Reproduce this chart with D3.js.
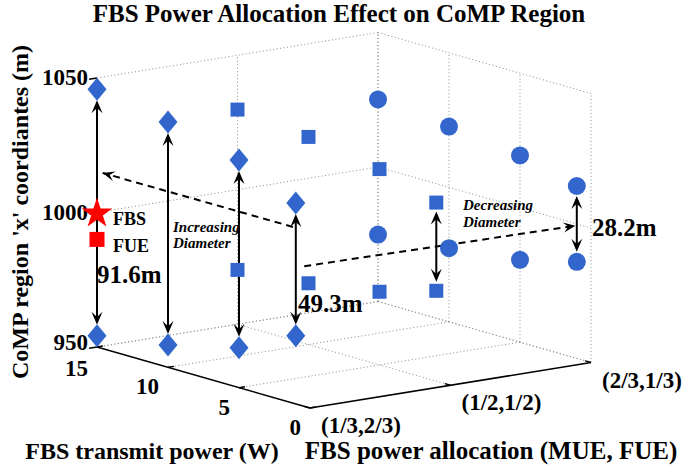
<!DOCTYPE html>
<html>
<head>
<meta charset="utf-8">
<script src="https://cdn.jsdelivr.net/npm/d3@7"></script>
<style>
  body { margin: 0; background: #fff; }
  svg text { font-family: "Liberation Serif", "Times New Roman", serif; font-weight: bold; }
</style>
</head>
<body>
<svg id="chart"></svg>
<script>
const width = 686;
const height = 469;

// data
const allocations = ['(1/3,2/3)', '(1/2,1/2)', '(2/3,1/3)'];
const powers = [15, 10, 5, 1];
const powerTicks = [0, 5, 10, 15];
const zTicks = [950, 1000, 1050];
const upperDiamond = [1045.8, 1041.2, 1034.6, 1024.65];
const lowerDiamond = [954.2, 958.3, 964.8, 975.35];
const upperSquare = [1029.8, 1027.2, 1022.8, 1016.4];
const lowerSquare = [970.2, 972.8, 977.2, 983.6];
const upperCircle = [1025.1, 1022.6, 1019.4, 1014.1];
const lowerCircle = [974.9, 977.4, 980.6, 985.9];
const fbs = {alloc: 0, power: 15, z: 1000};
const fue = {alloc: 0, power: 15, z: 990};

const blue = '#3366cc';

const svg = d3.select('#chart')
    .attr('width', width)
    .attr('height', height);

// 3d -> screen (orthographic view like matlab)
const origin = [310, 408];
const xs = d3.scaleLinear().domain([0, 2]).range([0, 1]);
const ys = d3.scaleLinear().domain([0, 15]).range([0, 1]);
const zs = d3.scaleLinear().domain([950, 1050]).range([0, 1]);
const xVec = [281, -45.5];
const yVec = [-213, -61];
const zVec = [0, -269];

function proj(a, p, z) {
    const fx = xs(a), fy = ys(p), fz = zs(z);
    return [
        origin[0] + fx * xVec[0] + fy * yVec[0] + fz * zVec[0],
        origin[1] + fx * xVec[1] + fy * yVec[1] + fz * zVec[1]
    ];
}

// grid (dotted)
const grid = svg.append('g')
    .attr('stroke', '#8c8c8c')
    .attr('stroke-width', 1)
    .attr('stroke-dasharray', '1,2.5')
    .attr('fill', 'none');

function seg(g, p1, p2) {
    g.append('line')
        .attr('x1', p1[0]).attr('y1', p1[1])
        .attr('x2', p2[0]).attr('y2', p2[1]);
}

// back wall at power=15
[1, 2].forEach(a => seg(grid, proj(a, 15, 950), proj(a, 15, 1050)));
zTicks.forEach(z => seg(grid, proj(0, 15, z), proj(2, 15, z)));
// right wall at alloc=2/3
powerTicks.forEach(p => seg(grid, proj(2, p, 950), proj(2, p, 1050)));
zTicks.forEach(z => seg(grid, proj(2, 0, z), proj(2, 15, z)));
// floor
[1, 2].forEach(a => seg(grid, proj(a, 0, 950), proj(a, 15, 950)));
[5, 10, 15].forEach(p => seg(grid, proj(0, p, 950), proj(2, p, 950)));

// axes lines
const axes = svg.append('g').attr('stroke', '#000').attr('stroke-width', 1.5);
seg(axes, proj(0, 15, 950), proj(0, 0, 950));
seg(axes, proj(0, 0, 950), proj(2, 0, 950));

// ticks
const xl = Math.hypot(xVec[0], xVec[1]);
const yl = Math.hypot(yVec[0], yVec[1]);
zTicks.forEach(z => {
    const p = proj(0, 15, z);
    seg(axes, p, [p[0] - 8 * xVec[0] / xl, p[1] - 8 * xVec[1] / xl]);
});
powerTicks.forEach(v => {
    const p = proj(0, v, 950);
    seg(axes, p, [p[0] + 6 * xVec[0] / xl, p[1] + 6 * xVec[1] / xl]);
});
[0, 1, 2].forEach(a => {
    const p = proj(a, 0, 950);
    seg(axes, p, [p[0] + 6 * yVec[0] / yl, p[1] + 6 * yVec[1] / yl]);
});

// tick labels
const tickFont = 23;
zTicks.forEach(z => {
    const p = proj(0, 15, z);
    svg.append('text')
        .attr('x', p[0] - 9).attr('y', p[1] + (z === 950 ? 3 : 7))
        .attr('text-anchor', 'end')
        .attr('font-size', tickFont)
        .text(z);
});
powerTicks.forEach(v => {
    const p = proj(0, v, 950);
    svg.append('text')
        .attr('x', p[0] - 9).attr('y', p[1] + (v === 15 ? 29 : 27))
        .attr('text-anchor', 'end')
        .attr('font-size', tickFont)
        .text(v);
});
allocations.forEach((t, a) => {
    const p = proj(a, 0, 950);
    svg.append('text')
        .attr('x', p[0] + 11).attr('y', p[1] + 25)
        .attr('text-anchor', 'start')
        .attr('font-size', tickFont)
        .text(t);
});

// arrows
function arrowHead(g, tip, from, len, hw) {
    const dx = tip[0] - from[0], dy = tip[1] - from[1];
    const l = Math.hypot(dx, dy);
    const ux = dx / l, uy = dy / l;
    const bx = tip[0] - ux * len, by = tip[1] - uy * len;
    const nx = tip[0] - ux * len * 0.6, ny = tip[1] - uy * len * 0.6;
    g.append('path')
        .attr('d', `M${tip[0]},${tip[1]}L${bx - uy * hw},${by + ux * hw}L${nx},${ny}L${bx + uy * hw},${by - ux * hw}Z`)
        .attr('fill', '#000').attr('stroke', 'none');
}

const arrows = svg.append('g');
function doubleArrow(a, p, zTop, zBot, gap) {
    const t = proj(a, p, zTop), b = proj(a, p, zBot);
    const t2 = [t[0], t[1] + gap], b2 = [b[0], b[1] - gap];
    arrows.append('line')
        .attr('x1', t2[0]).attr('y1', t2[1] + 3)
        .attr('x2', b2[0]).attr('y2', b2[1] - 3)
        .attr('stroke', '#000').attr('stroke-width', 2);
    arrowHead(arrows, t2, b2, 13, 5.5);
    arrowHead(arrows, b2, t2, 13, 5.5);
}
powers.forEach((p, i) => doubleArrow(0, p, upperDiamond[i], lowerDiamond[i], 11));
doubleArrow(1, 1, upperSquare[3], lowerSquare[3], 9);
doubleArrow(2, 1, upperCircle[3], lowerCircle[3], 10);

function dashedArrow(s, e) {
    arrows.append('line')
        .attr('x1', s[0]).attr('y1', s[1])
        .attr('x2', e[0]).attr('y2', e[1])
        .attr('stroke', '#000').attr('stroke-width', 2)
        .attr('stroke-dasharray', '7,5');
    arrowHead(arrows, e, s, 12, 5);
}
dashedArrow(proj(0, 1.2, 1015.5), proj(0, 14.6, 1015.3));
dashedArrow(proj(0.06, 1, 1000.7), proj(1.99, 1, 999.4));

// markers
const diamondPath = 'M0,-11.5L9.5,0L0,11.5L-9.5,0Z';
const markers = svg.append('g').attr('fill', blue);
powers.forEach((p, i) => {
    [upperDiamond[i], lowerDiamond[i]].forEach(z => {
        const q = proj(0, p, z);
        markers.append('path')
            .attr('d', diamondPath)
            .attr('transform', `translate(${q[0]},${q[1]})`);
    });
    [upperSquare[i], lowerSquare[i]].forEach(z => {
        const q = proj(1, p, z);
        markers.append('rect')
            .attr('x', q[0] - 7).attr('y', q[1] - 7)
            .attr('width', 14).attr('height', 14);
    });
    [upperCircle[i], lowerCircle[i]].forEach(z => {
        const q = proj(2, p, z);
        markers.append('circle')
            .attr('cx', q[0]).attr('cy', q[1]).attr('r', 9);
    });
});

// FBS / FUE
const fbsPos = proj(fbs.alloc, fbs.power, fbs.z);
svg.append('path')
    .attr('d', d3.symbol().type(d3.symbolStar).size(290)())
    .attr('transform', `translate(${fbsPos[0]},${fbsPos[1] + 1})`)
    .attr('fill', '#ff0000');
const fuePos = proj(fue.alloc, fue.power, fue.z);
svg.append('rect')
    .attr('x', fuePos[0] - 7.5).attr('y', fuePos[1] - 7.5)
    .attr('width', 15).attr('height', 15)
    .attr('fill', '#ff0000');

// annotation text
function label(x, y, t, size, italic) {
    svg.append('text')
        .attr('x', x).attr('y', y)
        .attr('font-size', size)
        .attr('font-style', italic ? 'italic' : 'normal')
        .text(t);
}
label(113, 225, 'FBS', 18);
label(113, 252, 'FUE', 18);
label(173, 232, 'Increasing', 15, true);
label(173, 248, 'Diameter', 15, true);
label(463, 210, 'Decreasing', 15, true);
label(463, 227, 'Diameter', 15, true);
label(97, 283, '91.6m', 25);
label(298, 312, '49.3m', 25);
label(592, 236, '28.2m', 25);

// title and axis labels
svg.append('text')
    .attr('x', 339).attr('y', 22)
    .attr('text-anchor', 'middle')
    .attr('font-size', 25)
    .text('FBS Power Allocation Effect on CoMP Region');

svg.append('text')
    .attr('x', 152).attr('y', 459)
    .attr('text-anchor', 'middle')
    .attr('font-size', 24)
    .text('FBS transmit power (W)');

svg.append('text')
    .attr('x', 491).attr('y', 459)
    .attr('text-anchor', 'middle')
    .attr('font-size', 25)
    .text('FBS power allocation (MUE, FUE)');

svg.append('text')
    .attr('transform', 'translate(28,212) rotate(-90)')
    .attr('text-anchor', 'middle')
    .attr('font-size', 24)
    .text("CoMP region 'x' coordiantes (m)");
</script>
</body>
</html>
